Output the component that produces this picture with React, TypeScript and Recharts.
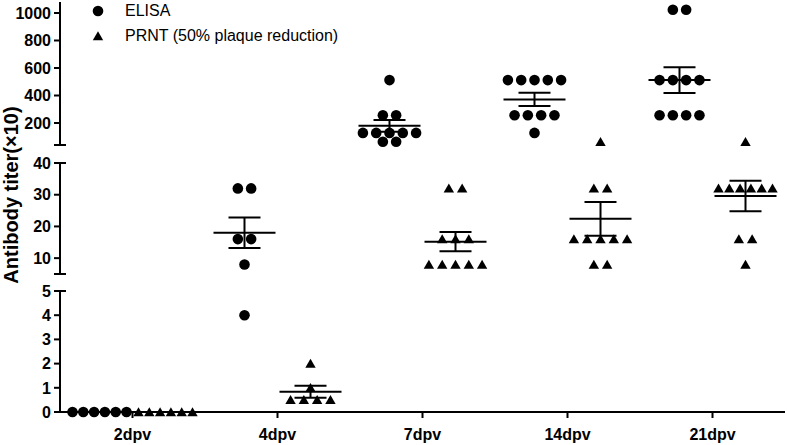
import React from 'react'
import { ScatterChart, Scatter, XAxis, YAxis, ErrorBar, ReferenceLine } from 'recharts'

const categories = ['2dpv', '4dpv', '7dpv', '14dpv', '21dpv']

// titers (x10), one list per time point
const elisaTiters = [
  [0, 0, 0, 0, 0, 0],
  [32, 32, 16, 16, 8, 4],
  [512, 256, 256, 128, 128, 128, 128, 128, 64, 64],
  [512, 512, 512, 512, 512, 256, 256, 256, 256, 128],
  [1024, 1024, 512, 512, 512, 512, 256, 256, 256, 256],
]
const prntTiters = [
  [0, 0, 0, 0, 0, 0],
  [2, 1, 0.5, 0.5, 0.5, 0.5],
  [32, 32, 16, 16, 16, 8, 8, 8, 8, 8],
  [64, 32, 32, 16, 16, 16, 16, 16, 8, 8],
  [64, 32, 32, 32, 32, 32, 32, 16, 16, 8],
]

const lowTicks = [0, 1, 2, 3, 4, 5]
const midTicks = [10, 20, 30, 40]
const highTicks = [200, 400, 600, 800, 1000]

const FONT = "Arial, 'Liberation Sans', sans-serif"

// broken y axis: three stacked pieces, mapped onto one linear display axis
const LOW_BREAK = 138
const HIGH_BREAK = 267
const Y_TOP = 410
const toDisplay = (v: number) => {
  if (v <= 5) return v * 24.2
  if (v <= 40) return LOW_BREAK + (v - 5) * 3.171
  return HIGH_BREAK + (v - 40) * 0.1375
}

const yTicks = [
  ...lowTicks.map(v => ({ pos: toDisplay(v), label: String(v), cap: v === 5 })),
  { pos: LOW_BREAK, label: '', cap: true },
  ...midTicks.map(v => ({ pos: toDisplay(v), label: String(v), cap: v === 40 })),
  { pos: HIGH_BREAK, label: '', cap: true },
  ...highTicks.map(v => ({ pos: toDisplay(v), label: String(v), cap: false })),
]

const SIDE = 0.2276

function layoutDots(values: number[], cat: number, side: number) {
  const counts = new Map<number, number>()
  values.forEach(v => counts.set(v, (counts.get(v) || 0) + 1))
  const seen = new Map<number, number>()
  return values.map(v => {
    const n = counts.get(v) as number
    const k = seen.get(v) || 0
    seen.set(v, k + 1)
    const step = n >= 6 ? 0.0745 : 0.0917
    return { x: cat + side * SIDE + (k - (n - 1) / 2) * step, y: toDisplay(v) }
  })
}

function summary(values: number[], cat: number, side: number) {
  const n = values.length
  const mean = values.reduce((a, b) => a + b, 0) / n
  const sd = Math.sqrt(values.reduce((a, b) => a + (b - mean) ** 2, 0) / (n - 1))
  const sem = sd / Math.sqrt(n)
  const y = toDisplay(mean)
  return { x: cat + side * SIDE, y, err: [y - toDisplay(mean - sem), toDisplay(mean + sem) - y] }
}

const elisaDots = elisaTiters.flatMap((vals, i) => layoutDots(vals, i, -1))
const prntDots = prntTiters.flatMap((vals, i) => layoutDots(vals, i, 1))
const means = [
  ...elisaTiters.map((vals, i) => summary(vals, i, -1)),
  ...prntTiters.map((vals, i) => summary(vals, i, 1)),
]

const Circle = (p: any) => <circle cx={p.cx} cy={p.cy} r={5.3} fill="#000" />
const Triangle = (p: any) => (
  <path d={`M${p.cx},${p.cy - 4.8}L${p.cx + 5.2},${p.cy + 4.2}L${p.cx - 5.2},${p.cy + 4.2}Z`} fill="#000" />
)
const MeanLine = (p: any) => (
  <line x1={p.cx - 31} x2={p.cx + 31} y1={p.cy} y2={p.cy} stroke="#000" strokeWidth={2} />
)

const YTick = (props: any) => {
  const { x, y, payload } = props
  const t = yTicks.find(t => Math.abs(t.pos - payload.value) < 0.01)
  if (!t) return null
  return (
    <g>
      <line x1={x - 6} x2={t.cap ? x + 6 : x} y1={y} y2={y} stroke="#000" strokeWidth={2} />
      {t.label && (
        <text x={x - 9} y={y} dy="0.36em" textAnchor="end" fontSize={16} fontWeight={700} fill="#000" fontFamily={FONT}>
          {t.label}
        </text>
      )}
    </g>
  )
}

const AxisTitle = () => (
  <text
    x={11}
    y={195}
    transform="rotate(-90, 11, 195)"
    textAnchor="middle"
    dominantBaseline="central"
    fontSize={20}
    fontWeight={700}
    fill="#000"
    fontFamily={FONT}
  >
    Antibody titer(×10)
  </text>
)

export default function App() {
  return (
    <div style={{ position: 'absolute', left: 0, top: 0, width: 787, height: 445, background: '#fff', fontFamily: FONT }}>
      <ScatterChart width={787} height={445} margin={{ top: 2, right: 2, bottom: 0, left: 0 }}>
        <XAxis
          type="number"
          dataKey="x"
          domain={[-0.5, 4.5]}
          ticks={[0, 1, 2, 3, 4]}
          interval={0}
          tickFormatter={(i: number) => categories[i]}
          height={33}
          axisLine={{ stroke: '#000', strokeWidth: 2 }}
          tickLine={{ stroke: '#000', strokeWidth: 2 }}
          tickSize={6}
          tickMargin={11}
          tick={{ fill: '#000', fontSize: 16, fontWeight: 700, fontFamily: FONT }}
        />
        <YAxis
          type="number"
          dataKey="y"
          domain={[0, Y_TOP]}
          ticks={yTicks.map(t => t.pos)}
          interval={0}
          width={60}
          axisLine={false}
          tickLine={false}
          tickSize={0}
          tickMargin={0}
          tick={<YTick />}
          label={<AxisTitle />}
        />
        <ReferenceLine segment={[{ x: -0.5, y: 0 }, { x: -0.5, y: toDisplay(5) }]} stroke="#000" strokeWidth={2} ifOverflow="visible" />
        <ReferenceLine segment={[{ x: -0.5, y: LOW_BREAK }, { x: -0.5, y: toDisplay(40) }]} stroke="#000" strokeWidth={2} ifOverflow="visible" />
        <ReferenceLine segment={[{ x: -0.5, y: HIGH_BREAK }, { x: -0.5, y: Y_TOP }]} stroke="#000" strokeWidth={2} ifOverflow="visible" />
        <Scatter data={elisaDots} shape={Circle} isAnimationActive={false} />
        <Scatter data={prntDots} shape={Triangle} isAnimationActive={false} />
        <Scatter data={means} shape={MeanLine} isAnimationActive={false}>
          <ErrorBar dataKey="err" direction="y" width={16} stroke="#000" strokeWidth={2} />
        </Scatter>
      </ScatterChart>
      <div style={{ position: 'absolute', left: 90, top: 0, fontSize: 16, color: '#000' }}>
        <div style={{ position: 'absolute', top: 0, left: 0, display: 'flex', alignItems: 'center', height: 22, whiteSpace: 'nowrap' }}>
          <svg width={16} height={14} style={{ marginRight: 19 }}>
            <circle cx={8} cy={7} r={5.3} fill="#000" />
          </svg>
          <span>ELISA</span>
        </div>
        <div style={{ position: 'absolute', top: 25, left: 0, display: 'flex', alignItems: 'center', height: 22, whiteSpace: 'nowrap' }}>
          <svg width={16} height={14} style={{ marginRight: 19 }}>
            <path d="M8,2.2L13.2,11.2L2.8,11.2Z" fill="#000" />
          </svg>
          <span>PRNT (50% plaque reduction)</span>
        </div>
      </div>
    </div>
  )
}
